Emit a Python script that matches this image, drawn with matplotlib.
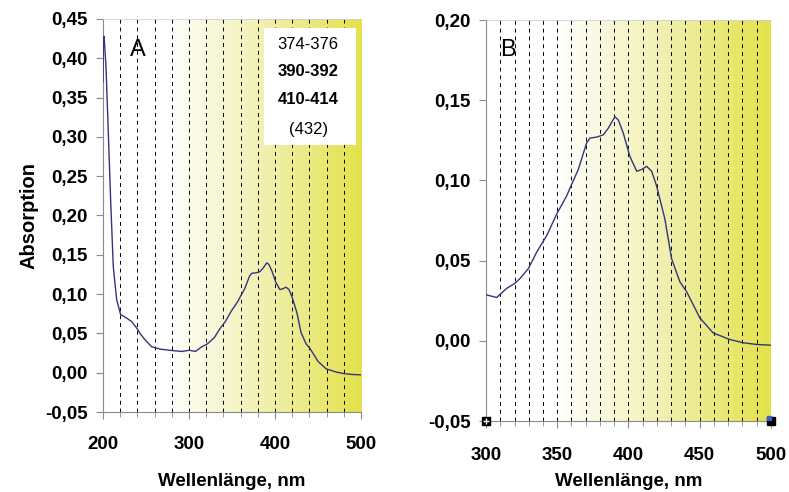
import numpy as np
import matplotlib
matplotlib.use("Agg")
import matplotlib.pyplot as plt
from matplotlib.colors import LinearSegmentedColormap

plt.rcParams['font.family'] = ['Liberation Sans', 'DejaVu Sans']

# spectrum (nm, absorption)
wavelength = [200.0, 200.5, 201.3, 203.5, 206.2, 208.9, 212.0, 215.9, 220.5, 227.5,
              233.3, 239.1, 243.0, 248.8, 256.6, 266.3, 281.8, 292.0, 300.5, 307.5,
              314.5, 320.3, 323.9, 329.7, 335.6, 342.6, 349.6, 356.6, 360.1, 364.8,
              370.6, 373.0, 377.7, 382.3, 385.8, 390.5, 392.9, 396.4, 401.0, 405.8,
              409.3, 412.8, 416.3, 419.8, 425.6, 430.3, 436.1, 440.8, 450.2, 459.5,
              471.2, 480.6, 490.0, 499.3, 500.0]
absorption = [0.370, 0.425, 0.428, 0.390, 0.306, 0.220, 0.135, 0.093, 0.074, 0.0695,
              0.065, 0.057, 0.050, 0.042, 0.033, 0.030, 0.028, 0.027, 0.0286, 0.027,
              0.0327, 0.0358, 0.0389, 0.045, 0.0553, 0.0656, 0.079, 0.0903, 0.0975, 0.1068,
              0.1233, 0.1264, 0.127, 0.1284, 0.1325, 0.1397, 0.1377, 0.1294, 0.115, 0.1057,
              0.1068, 0.1088, 0.1057, 0.0965, 0.0759, 0.0512, 0.0368, 0.0307, 0.0142, 0.0049,
              0.0008, -0.0012, -0.0023, -0.0027, -0.0027]

legend_lines = ['374-376', '390-392', '410-414', '(432)']
legend_bold = [False, True, True, False]

ticks_a = [200, 300, 400, 500]
yticks_a = [-0.05, 0.0, 0.05, 0.10, 0.15, 0.20, 0.25, 0.30, 0.35, 0.40, 0.45]
ticks_b = [300, 350, 400, 450, 500]
yticks_b = [-0.05, 0.0, 0.05, 0.10, 0.15, 0.20]

line_col = '#34347e'
spine_col = '#8a8a8a'
yellow = LinearSegmentedColormap.from_list(
    'yel', [(0.0, 'white'), (0.25, 'white'), (0.62, '#f1f0b0'), (1.0, '#e3e24a')], N=1024)

fig = plt.figure(figsize=(7.89, 4.92), dpi=100)
ax_a = fig.add_axes([0.1305, 0.1626, 0.327, 0.799])
ax_b = fig.add_axes([0.616, 0.1443, 0.361, 0.815])


def fmt(v):
    return f'{v:.2f}'.replace('.', ',').replace('-0,00', '0,00')


def setup(ax, xlim, ylim, xt, yt, grid_step, xpad, lpad):
    ax.set_xlim(*xlim)
    ax.set_ylim(*ylim)
    grad = np.linspace(0, 1, 1024).reshape(1, -1)
    ax.imshow(grad, cmap=yellow, aspect='auto', extent=(*xlim, *ylim),
              interpolation='bilinear', zorder=0)
    for g in np.arange(xlim[0] + grid_step, xlim[1], grid_step):
        ax.axvline(g, color='black', lw=0.7, ls=(0, (4, 4)), zorder=1)
    ax.set_xticks(xt)
    ax.set_xticklabels([str(t) for t in xt], fontweight='bold', fontsize=13.5)
    ax.set_xticks(np.arange(xlim[0], xlim[1] + 1, grid_step), minor=True)
    ax.set_yticks(yt)
    ax.set_yticklabels([fmt(t) for t in yt], fontweight='bold', fontsize=13.5)
    ax.tick_params(axis='x', which='major', length=5, color=spine_col, pad=xpad)
    ax.tick_params(axis='x', which='minor', length=3.5, color=spine_col)
    ax.tick_params(axis='y', length=5, color=spine_col, pad=6)
    for s in ('left', 'bottom'):
        ax.spines[s].set_color(spine_col)
    ax.spines['top'].set_color('#cfcfcf')
    ax.spines['top'].set_linewidth(0.6)
    ax.spines['right'].set_visible(False)
    ax.plot(wavelength, absorption, color=line_col, lw=1.0, zorder=3)
    ax.set_xlabel('Wellenlänge, nm', fontweight='bold', fontsize=13.5, labelpad=lpad)


setup(ax_a, (200, 500), (-0.05, 0.45), ticks_a, yticks_a, 20, 12, 15)
setup(ax_b, (300, 500), (-0.05, 0.20), ticks_b, yticks_b, 10, 14, 6)

ax_a.set_ylabel('Absorption', fontweight='bold', fontsize=14.5, labelpad=5)
ax_a.text(0.136, 0.921, 'A', transform=ax_a.transAxes, fontsize=17,
          ha='center', va='center')
ax_b.text(0.077, 0.925, 'B', transform=ax_b.transAxes, fontsize=17,
          ha='center', va='center')

# white box with the band positions
ax_a.add_patch(plt.Rectangle((0.624, 0.679), 0.357, 0.298, transform=ax_a.transAxes,
                             facecolor='white', edgecolor='none', zorder=4))
for i, (t, b) in enumerate(zip(legend_lines, legend_bold)):
    ax_a.text(0.795, [0.936, 0.865, 0.794, 0.718][i], t, transform=ax_a.transAxes,
              ha='center', va='center', fontsize=12,
              fontweight='bold' if b else 'normal', zorder=5)

# selection handles in the corners of panel B
ax_b.plot([300, 500], [-0.05, -0.05], 's', color='black', ms=6, clip_on=False, zorder=6)
ax_b.plot([300], [-0.05], '+', color='white', ms=5, mew=1, clip_on=False, zorder=7)
ax_b.plot([499], [-0.048], 's', color='#3a5fc8', ms=3, clip_on=False, zorder=7)

fig.savefig('out.png', dpi=100)
